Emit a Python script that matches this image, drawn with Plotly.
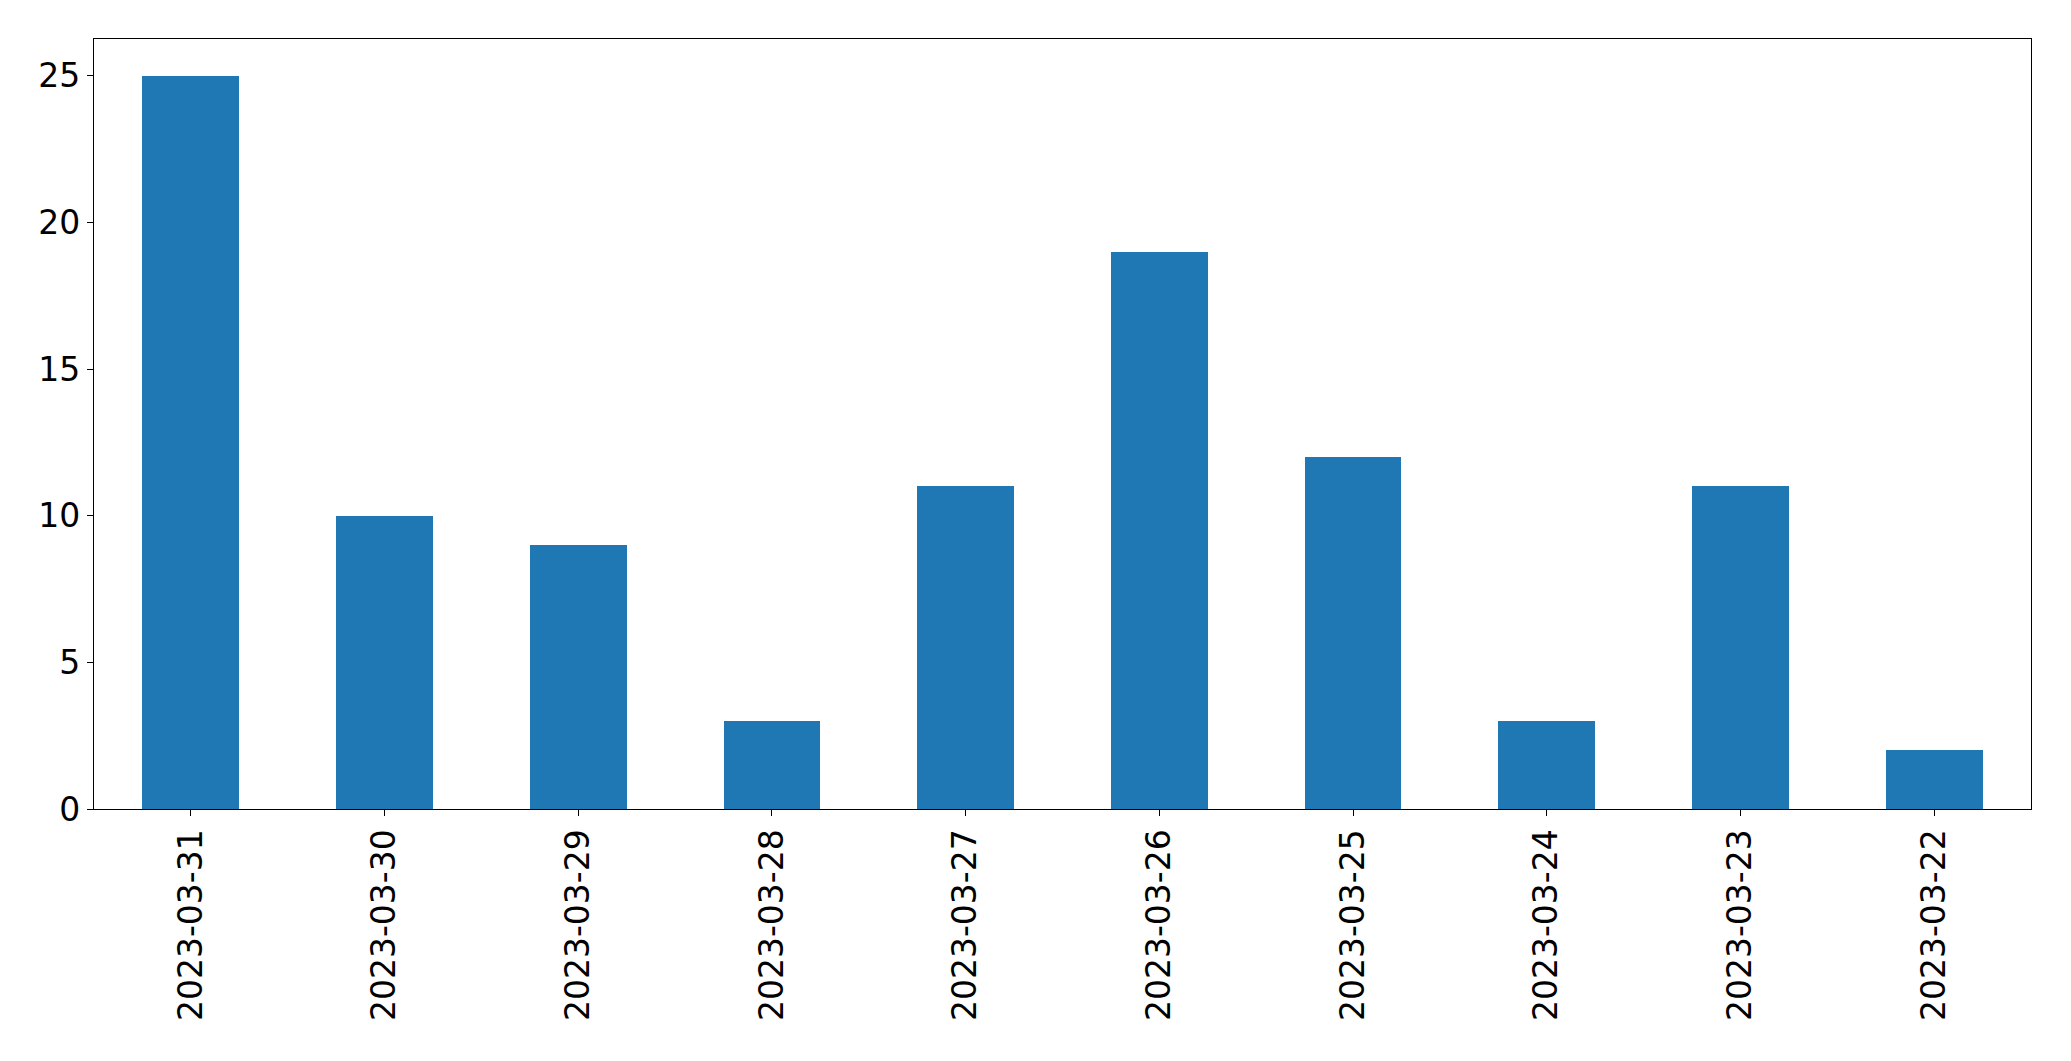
import plotly.graph_objects as go

dates = ["2023-03-31", "2023-03-30", "2023-03-29", "2023-03-28", "2023-03-27",
         "2023-03-26", "2023-03-25", "2023-03-24", "2023-03-23", "2023-03-22"]
counts = [25, 10, 9, 3, 11, 19, 12, 3, 11, 2]
y_ticks = [0, 5, 10, 15, 20, 25]

fig = go.Figure(go.Bar(
    x=list(range(len(dates))), y=counts, width=0.5,
    marker=dict(color="#1f77b4", line=dict(width=0)),
))

fig.update_layout(
    width=2071, height=1061,
    margin=dict(l=94, r=40, t=39, b=252, autoexpand=False),
    paper_bgcolor="white", plot_bgcolor="white",
    font=dict(family="DejaVu Sans", size=33, color="black"),
    showlegend=False,
    bargap=0,
)
fig.update_xaxes(
    range=[-0.5, len(dates) - 0.5], automargin=False,
    tickmode="array", tickvals=list(range(len(dates))), ticktext=dates,
    tickangle=-90, ticks="outside", ticklen=6, tickwidth=1.2, tickcolor="black",
    showline=True, linecolor="black", linewidth=1.2, mirror=True,
    showgrid=False, zeroline=False,
)
fig.update_yaxes(
    range=[0, 26.25], automargin=False,
    tickmode="array", tickvals=y_ticks,
    ticks="outside", ticklen=6, tickwidth=1.2, tickcolor="black",
    showline=True, linecolor="black", linewidth=1.2, mirror=True,
    showgrid=False, zeroline=False,
)

fig.write_html(
    "out.html",
    config={"displayModeBar": False},
    post_script="document.body.style.margin='0';document.body.style.overflow='hidden';",
)
